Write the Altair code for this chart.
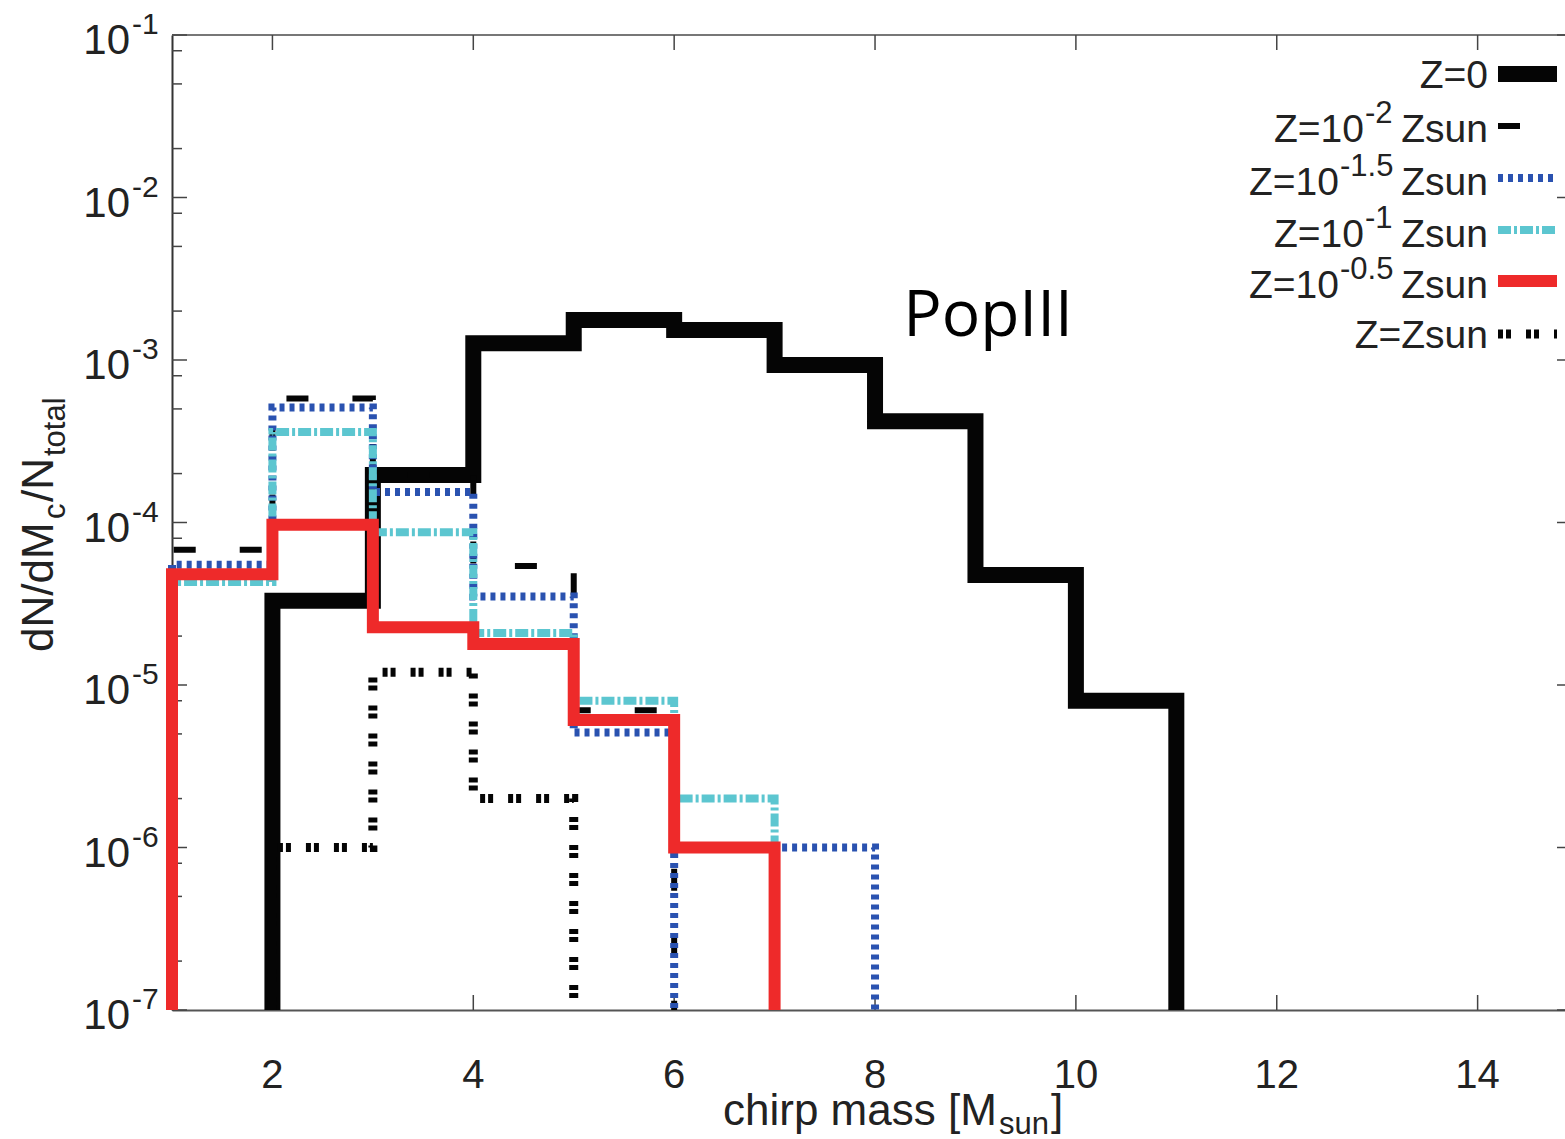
import altair as alt
import pandas as pd

# ---------------- data ----------------
bin_edges = [1, 2, 3, 4, 5, 6, 7, 8, 9, 10, 11]
series_keys = ["z0", "zm2", "zm15", "zm1", "zm05", "zsun"]
# values per bin (1-2, 2-3, ..., 10-11); 0 = empty bin
z0_vals   = [0, 3.3e-5, 1.96e-4, 1.27e-3, 1.76e-3, 1.53e-3, 9.3e-4, 4.2e-4, 4.75e-5, 8.0e-6]
zm2_vals  = [6.8e-5, 5.8e-4, 1.96e-4, 5.4e-5, 7.0e-6, 0, 0, 0, 0, 0]
zm15_vals = [5.5e-5, 5.1e-4, 1.54e-4, 3.5e-5, 5.1e-6, 0, 1.0e-6, 0, 0, 0]
zm1_vals  = [4.3e-5, 3.6e-4, 8.7e-5, 2.09e-5, 8.0e-6, 2.0e-6, 0, 0, 0, 0]
zm05_vals = [4.8e-5, 9.7e-5, 2.27e-5, 1.79e-5, 6.1e-6, 1.0e-6, 0, 0, 0, 0]
zsun_vals = [0, 1.0e-6, 1.2e-5, 2.0e-6, 0, 0, 0, 0, 0, 0]

x_tick_values = [2, 4, 6, 8, 10, 12, 14]
y_decades = [1e-7, 1e-6, 1e-5, 1e-4, 1e-3, 1e-2, 1e-1]
y_exponents = ["-7", "-6", "-5", "-4", "-3", "-2", "-1"]
y_minor = [m * 10.0 ** k for k in range(-7, -1) for m in (2, 5, 8)]

annot_text = "PopIII"
annot_x = 8.28
annot_y = 1.41e-3

YMIN, YMAX = 1e-7, 1e-1
XMIN, XMAX = 1, 14.87

# ---------------- layout ----------------
W, H = 1393, 975
TXT = "#222222"
AX = "#555555"
NARROW = "Liberation Sans Narrow, Liberation Sans, sans-serif"
SANS = "Liberation Sans, Arial, sans-serif"

xs = alt.Scale(domain=[XMIN, XMAX], nice=False, zero=False)
ys = alt.Scale(type="log", domain=[YMIN, YMAX], nice=False)


def step_frame(vals):
    rows = []
    seg = -1
    o = 0
    i = 0
    n = len(vals)
    while i < n:
        if vals[i] <= 0:
            i += 1
            continue
        seg += 1
        rows.append((bin_edges[i], YMIN, seg, o)); o += 1
        while i < n and vals[i] > 0:
            rows.append((bin_edges[i], vals[i], seg, o)); o += 1
            rows.append((bin_edges[i + 1], vals[i], seg, o)); o += 1
            i += 1
        rows.append((bin_edges[i], YMIN, seg, o)); o += 1
    return pd.DataFrame(rows, columns=["x", "y", "seg", "o"])


styles = {
    "z0":   dict(color="#050505", strokeWidth=16),
    "zm2":  dict(color="#050505", strokeWidth=6, strokeDash=[22, 44]),
    "zm15": dict(color="#2a52b0", strokeWidth=8, strokeDash=[5, 5]),
    "zm1":  dict(color="#5cc6d0", strokeWidth=8, strokeDash=[13, 3, 3, 3]),
    "zm05": dict(color="#ee2a2a", strokeWidth=12),
    "zsun": dict(color="#050505", strokeWidth=9, strokeDash=[5, 3, 5, 15]),
}
values = {"z0": z0_vals, "zm2": zm2_vals, "zm15": zm15_vals,
          "zm1": zm1_vals, "zm05": zm05_vals, "zsun": zsun_vals}

layers = []

# base layer carrying the axis domain lines
base = alt.Chart(pd.DataFrame({"x": [XMIN], "y": [YMIN]})).mark_point(opacity=0).encode(
    x=alt.X("x:Q", scale=xs, axis=alt.Axis(labels=False, ticks=False, grid=False, title=None,
                                          domainColor=AX, domainWidth=2)),
    y=alt.Y("y:Q", scale=ys, axis=alt.Axis(labels=False, ticks=False, grid=False, title=None,
                                          domainColor="#333333", domainWidth=2)),
)
layers.append(base)

one = alt.Data(values=[{"a": 0}])

# top frame line
layers.append(alt.Chart(one).mark_rule(color="#777777", strokeWidth=2).encode(
    x=alt.value(0), x2=alt.value(W), y=alt.value(0)))

# inward ticks
xt = pd.DataFrame({"v": x_tick_values, "lab": [str(v) for v in x_tick_values]})
layers.append(alt.Chart(xt).mark_rule(color="#444444", strokeWidth=1.5).encode(
    x=alt.X("v:Q", scale=xs), y=alt.value(0), y2=alt.value(15)))
layers.append(alt.Chart(xt).mark_rule(color="#444444", strokeWidth=1.5).encode(
    x=alt.X("v:Q", scale=xs), y=alt.value(H - 15), y2=alt.value(H)))
yd = pd.DataFrame({"v": y_decades, "e": y_exponents})
ym = pd.DataFrame({"v": y_minor})
layers.append(alt.Chart(yd).mark_rule(color="#444444", strokeWidth=1.5).encode(
    y=alt.Y("v:Q", scale=ys), x=alt.value(0), x2=alt.value(15)))
layers.append(alt.Chart(ym).mark_rule(color="#444444", strokeWidth=1.5).encode(
    y=alt.Y("v:Q", scale=ys), x=alt.value(0), x2=alt.value(10)))
layers.append(alt.Chart(yd).mark_rule(color="#444444", strokeWidth=1.5).encode(
    y=alt.Y("v:Q", scale=ys), x=alt.value(W - 8), x2=alt.value(W)))

# histogram step lines
for key in series_keys:
    df = step_frame(values[key])
    layers.append(alt.Chart(df).mark_line(strokeJoin="miter", strokeCap="butt", **styles[key]).encode(
        x=alt.X("x:Q", scale=xs), y=alt.Y("y:Q", scale=ys),
        detail="seg:N", order="o:Q"))

# tick labels
layers.append(alt.Chart(yd).mark_text(text="10", align="right", baseline="alphabetic", dy=19,
                                      font=NARROW, fontSize=42, color=TXT).encode(
    x=alt.value(-42), y=alt.Y("v:Q", scale=ys)))
layers.append(alt.Chart(yd).mark_text(align="left", baseline="alphabetic", dy=-1,
                                      font=NARROW, fontSize=30, color=TXT).encode(
    x=alt.value(-40), y=alt.Y("v:Q", scale=ys), text="e:N"))
layers.append(alt.Chart(xt).mark_text(align="center", baseline="alphabetic",
                                      font=NARROW, fontSize=40, color=TXT).encode(
    x=alt.X("v:Q", scale=xs), y=alt.value(1053), text="lab:N"))


def txt(s, x, y, size, align="left", angle=0, font=SANS, color=TXT):
    kw = dict(text=s, align=align, baseline="alphabetic", fontSize=size, font=font, color=color)
    if angle:
        kw["angle"] = angle
    return alt.Chart(one).mark_text(**kw).encode(x=alt.value(x), y=alt.value(y))


# axis titles
layers += [
    txt("chirp mass [M", 551, 1090, 44),
    txt("sun", 827, 1099, 31),
    txt("]", 879, 1090, 44),
    txt("dN/dM", -119, 617, 44, angle=270),
    txt("c", -107, 484, 31, angle=270),
    txt("/N", -119, 467, 44, angle=270),
    txt("total", -107, 421, 31, angle=270),
]

# annotation
ann = pd.DataFrame({"x": [annot_x], "y": [annot_y], "t": [annot_text]})
layers.append(alt.Chart(ann).mark_text(align="left", baseline="alphabetic", font="Open Sans",
                                       fontSize=64, color="#000000").encode(
    x=alt.X("x:Q", scale=xs), y=alt.Y("y:Q", scale=ys), text="t:N"))

# legend
LF = 39
SF = 31
RX = 1316
legend_rows = [
    ("z0", 53, None, None, 39),
    ("zm2", 107, "-2", 1192, 91),
    ("zm15", 160, "-1.5", 1167, 143),
    ("zm1", 212, "-1", 1192, 195),
    ("zm05", 263, "-0.5", 1167, 246),
    ("zsun", 313, None, None, 299),
]
for key, base_y, sup, zx, sy in legend_rows:
    if key == "z0":
        layers.append(txt("Z=0", RX, base_y, LF, align="right"))
    elif key == "zsun":
        layers.append(txt("Z=Zsun", RX, base_y, LF, align="right"))
    else:
        layers.append(txt("Z=10", zx, base_y, LF, align="right"))
        layers.append(txt(sup, zx + 1, base_y - 19, SF, align="left"))
        layers.append(txt("Zsun", RX, base_y, LF, align="right"))
    st = dict(styles[key])
    layers.append(alt.Chart(one).mark_rule(strokeCap="butt", **st).encode(
        x=alt.value(1326), x2=alt.value(1385), y=alt.value(sy)))

chart = alt.layer(*layers).properties(
    width=W, height=H,
    autosize=alt.AutoSizeParams(type="none"),
    padding={"left": 172, "top": 35, "right": 0, "bottom": 129},
    background="white",
).configure_view(stroke=None)

chart.save("out.html", embed_options={"renderer": "svg", "actions": False})
